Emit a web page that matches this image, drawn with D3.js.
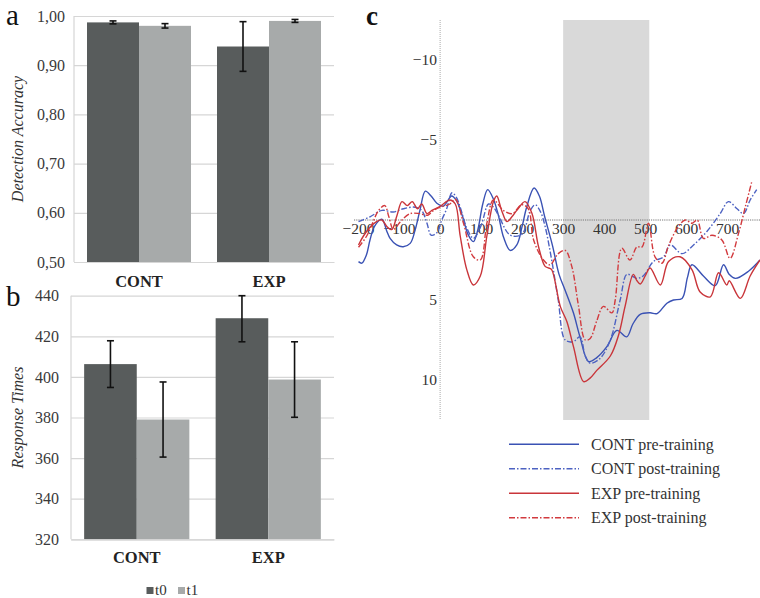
<!DOCTYPE html>
<html><head><meta charset="utf-8">
<script src="https://cdn.jsdelivr.net/npm/d3@7/dist/d3.min.js"></script>
<style>
html,body{margin:0;padding:0;background:#fff;}
svg{display:block;}
svg text{font-family:"Liberation Serif","Tinos","Times New Roman","DejaVu Serif",serif !important;}
</style></head>
<body>
<svg id="chart" width="760" height="598"></svg>
<script>
// ---------- DATA ----------
const categories = ["CONT", "EXP"];
const sessions = ["t0", "t1"];
const accTicks = [0.5, 0.6, 0.7, 0.8, 0.9, 1.0];
const accT0 = [0.987, 0.938];
const accT1 = [0.980, 0.990];
const accErrT0 = [0.003, 0.0505];
const accErrT1 = [0.0045, 0.003];
const rtTicks = [320, 340, 360, 380, 400, 420, 440];
const rtT0 = [406.3, 428.9];
const rtT1 = [379.0, 398.7];
const rtErrT0 = [11.5, 11.6];
const rtErrT1 = [18.5, 18.6];

const erpXTicks = [-200, -100, 0, 100, 200, 300, 400, 500, 600, 700];
const erpYTicks = [-10, -5, 5, 10];
const erpWindow = [300, 510];
const erpLabels = ["CONT pre-training", "CONT post-training", "EXP pre-training", "EXP post-training"];

const contPre = [[-199,2.6],[-191,2.7],[-180,2.2],[-171,1.25],[-160,0.4],[-142,-0.05],[-130,0.7],[-122,1.15],[-106,1.56],[-90,1.67],[-73,1.46],[-61,0.63],[-49,-0.63],[-36,-1.8],[-22,-1.5],[-8,-1.05],[8,-0.87],[28,-1.5],[40,-1.2],[55,-0.2],[68,0.9],[81,1.35],[92,0.6],[104,-1.0],[116,-1.9],[130,-1.3],[142,-0.3],[155,1.1],[171,1.9],[187,1.56],[200,0.4],[211,-0.8],[229,-2.0],[242,-1.5],[255,-0.2],[274,1.6],[290,3.4],[305,4.4],[325,5.8],[341,7.3],[362,8.85],[382,8.6],[407,7.9],[431,6.9],[455,7.3],[470,6.5],[488,5.9],[512,5.8],[529,5.85],[553,5.2],[569,5.0],[590,4.9],[603,3.6],[614,2.8],[642,3.5],[671,4.1],[691,2.8],[705,3.4],[720,3.65],[752,3.2],[780,2.5]];
const contPost = [[-199,0.1],[-171,-0.2],[-142,-0.6],[-114,-0.5],[-90,-0.7],[-61,-0.8],[-45,-0.6],[-32,0.2],[-22,0.95],[-8,0.8],[4,0],[16,-0.7],[29,-1.7],[40,-1.4],[49,-0.8],[65,0.5],[81,1.15],[92,0.8],[102,0.2],[118,-1.0],[130,-0.8],[142,-0.3],[171,0.95],[199,0.9],[220,-0.6],[232,-0.95],[245,-0.5],[256,0.4],[272,2.5],[288,5.0],[305,7.5],[325,7.6],[341,7.3],[354,8.5],[366,8.95],[390,8.65],[415,7.5],[439,5.0],[455,3.4],[468,3.5],[480,3.65],[495,3.5],[520,2.6],[545,2.3],[561,1.56],[590,2.1],[618,1.56],[650,0.73],[683,-0.4],[703,-1.15],[724,-0.7],[740,-0.4],[756,-1.25],[772,-1.9]];
const expPre = [[-199,1.56],[-187,1.0],[-171,0.45],[-155,0.1],[-142,0.0],[-130,0.4],[-118,0.6],[-105,-0.3],[-93,-1.15],[-80,-0.9],[-68,-1.15],[-55,-0.7],[-45,-1.0],[-32,-0.4],[-20,-0.6],[0,-0.85],[24,-1.25],[37,-1.0],[49,1.0],[65,3.1],[81,4.06],[98,3.5],[114,1.0],[130,-1.15],[138,-1.5],[150,-0.6],[163,0.1],[175,-0.2],[187,-0.6],[207,-1.15],[224,-0.4],[240,1.67],[256,2.9],[265,3.0],[272,3.1],[293,5.4],[309,6.35],[325,7.9],[350,10.1],[365,9.9],[382,9.4],[415,8.5],[435,7.2],[451,5.4],[471,3.4],[480,3.8],[488,4.0],[500,3.5],[512,3.0],[537,4.06],[557,2.6],[585,2.3],[614,3.1],[634,4.5],[659,4.8],[679,3.3],[699,4.06],[705,3.8],[732,4.9],[756,3.5],[780,2.5]];
const expPost = [[-199,1.7],[-179,1.0],[-165,0.2],[-150,-0.6],[-135,-0.9],[-125,-0.2],[-114,0.6],[-100,0.2],[-93,0.0],[-73,-0.4],[-50,-0.4],[-30,-0.3],[-16,-0.6],[0,-0.8],[24,-1.0],[37,-1.3],[57,0.2],[81,2.3],[98,2.5],[114,0.2],[130,-1.25],[154,-0.6],[176,-0.4],[199,-0.95],[215,-0.7],[228,1.25],[252,2.5],[268,2.8],[288,2.1],[305,1.9],[321,2.9],[337,5.3],[354,7.5],[366,7.4],[382,6.3],[398,5.4],[419,5.8],[427,5.0],[443,1.77],[463,2.5],[480,1.67],[492,1.7],[508,0.2],[524,2.3],[541,2.7],[557,1.6],[581,0.4],[598,0],[614,0.2],[627,0],[642,1.15],[663,0.95],[687,1.25],[707,2.4],[728,0.8],[744,-0.8],[760,-2.4]];

// ---------- STYLE ----------
const darkBar = "#585c5c", lightBar = "#a7aaaa", gridCol = "#d6d6d6";
const svg = d3.select("#chart");

function barPanel(opts) {
  const g = svg.append("g");
  const x = d3.scaleBand().domain(categories).range([opts.left, opts.right]).paddingInner(0.2).paddingOuter(0.1);
  const xs = d3.scaleBand().domain(sessions).range([0, x.bandwidth()]);
  const y = d3.scaleLinear().domain(opts.domain).range([opts.bottom, opts.top]);
  const ya = g.append("g").attr("transform", `translate(${opts.left},0)`)
    .call(d3.axisLeft(y).tickValues(opts.ticks).tickSize(-(opts.right - opts.left)).tickPadding(opts.pad).tickFormat(opts.fmt));
  ya.select(".domain").remove();
  ya.selectAll("line").attr("stroke", gridCol).attr("stroke-width", 1.2);
  ya.selectAll("text").attr("font-size", 16).attr("fill", "#3a3a3a");
  g.append("line").attr("x1", opts.left).attr("x2", opts.left).attr("y1", opts.top).attr("y2", opts.bottom).attr("stroke", gridCol).attr("stroke-width", 1.2);
  const vals = {t0: opts.t0, t1: opts.t1}, errs = {t0: opts.e0, t1: opts.e1};
  const cols = {t0: darkBar, t1: lightBar};
  sessions.forEach(s => {
    categories.forEach((c, i) => {
      const v = vals[s][i];
      g.append("rect").attr("x", x(c) + xs(s)).attr("width", xs.bandwidth())
        .attr("y", y(v)).attr("height", y(opts.domain[0]) - y(v)).attr("fill", cols[s]);
    });
  });
  sessions.forEach(s => {
    categories.forEach((c, i) => {
      const v = vals[s][i], e = errs[s][i];
      const cx = x(c) + xs(s) + xs.bandwidth() / 2;
      const top = y(Math.min(v + e, opts.domain[1])), bot = y(v - e);
      g.append("line").attr("x1", cx).attr("x2", cx).attr("y1", top).attr("y2", bot).attr("stroke", "#111").attr("stroke-width", 1.6);
      [top, bot].forEach(yy => g.append("line").attr("x1", cx - 3.5).attr("x2", cx + 3.5).attr("y1", yy).attr("y2", yy).attr("stroke", "#111").attr("stroke-width", 1.6));
    });
  });
  const xa = g.append("g").attr("transform", `translate(0,${opts.bottom})`)
    .call(d3.axisBottom(x).tickSize(0).tickPadding(opts.catPad));
  xa.select(".domain").attr("stroke", gridCol).attr("stroke-width", 1.2);
  xa.selectAll("text").attr("font-size", 16.5).attr("font-weight", "bold").attr("fill", "#222");
  g.append("text").attr("transform", `translate(${opts.titleX},${(opts.top + opts.bottom) / 2}) rotate(-90)`)
    .attr("text-anchor", "middle").attr("font-size", 16).attr("font-style", "italic").attr("fill", "#333").text(opts.title);
  g.append("text").attr("x", 6).attr("y", opts.letterY).attr("font-size", 29).attr("fill", "#111").text(opts.letter);
}

barPanel({left: 74, right: 334, top: 16, bottom: 262, domain: [0.5, 1.0], ticks: accTicks, pad: 9,
  fmt: d => d.toFixed(2).replace(".", ","), t0: accT0, t1: accT1, e0: accErrT0, e1: accErrT1,
  catPad: 13, title: "Detection Accuracy", titleX: 23, letter: "a", letterY: 25});
barPanel({left: 71, right: 334, top: 295.7, bottom: 539.3, domain: [320, 440], ticks: rtTicks, pad: 12,
  fmt: d3.format("d"), t0: rtT0, t1: rtT1, e0: rtErrT0, e1: rtErrT1,
  catPad: 12, title: "Response Times", titleX: 23, letter: "b", letterY: 306});

const lg = svg.append("g");
[["t0", darkBar, 146.5], ["t1", lightBar, 178]].forEach(([lab, col, lx]) => {
  lg.append("rect").attr("x", lx).attr("y", 587).attr("width", 7).attr("height", 7).attr("fill", col);
  lg.append("text").attr("x", lx + 8.5).attr("y", 595).attr("font-size", 15).attr("fill", "#333").text(lab);
});

// ---------- ERP panel ----------
const xE = d3.scaleLinear().domain([-210, 780]).range([354, 760]);
const yE = d3.scaleLinear().domain([-12.5, 12.5]).range([20, 420]);
const gc = svg.append("g");
gc.append("rect").attr("x", xE(erpWindow[0])).attr("width", xE(erpWindow[1]) - xE(erpWindow[0]))
  .attr("y", yE(-12.5)).attr("height", yE(12.5) - yE(-12.5)).attr("fill", "#d9d9d9");
gc.append("line").attr("x1", xE(0)).attr("x2", xE(0)).attr("y1", yE(-12.5)).attr("y2", yE(12.5))
  .attr("stroke", "#aaa").attr("stroke-width", 1).attr("stroke-dasharray", "1,1");
gc.append("line").attr("x1", xE(-210)).attr("x2", xE(780)).attr("y1", yE(0)).attr("y2", yE(0))
  .attr("stroke", "#777").attr("stroke-width", 1).attr("stroke-dasharray", "1.2,1");
const yax = gc.append("g").attr("transform", `translate(${xE(0)},0)`)
  .call(d3.axisLeft(yE).tickValues(erpYTicks).tickSize(0).tickPadding(3).tickFormat(d3.format("d")));
yax.select(".domain").remove();
yax.selectAll("text").attr("font-size", 15.5).attr("fill", "#333");
const xax = gc.append("g").attr("transform", `translate(0,${yE(0)})`)
  .call(d3.axisBottom(xE).tickValues(erpXTicks).tickSize(0).tickPadding(3).tickFormat(d3.format("d")));
xax.select(".domain").remove();
xax.selectAll("text").attr("font-size", 15.5).attr("fill", "#333");

const series = [
  {data: contPre, color: "#3a52b4", dash: null},
  {data: contPost, color: "#4d62c2", dash: "6,2,1.5,2"},
  {data: expPre, color: "#c9353a", dash: null},
  {data: expPost, color: "#d23a3e", dash: "6,2,1.5,2"}
];
const line = d3.line().x(d => xE(d[0])).y(d => yE(d[1])).curve(d3.curveCatmullRom.alpha(0.5));
series.forEach(s => {
  gc.append("path").attr("d", line(s.data)).attr("fill", "none").attr("stroke", s.color)
    .attr("stroke-width", 1.4).attr("stroke-dasharray", s.dash);
});
gc.append("text").attr("x", 366).attr("y", 25).attr("font-size", 27).attr("font-weight", "bold").attr("fill", "#111").text("c");

series.forEach((s, i) => {
  const ly = 444.3 + i * 24.5;
  gc.append("line").attr("x1", 509).attr("x2", 579).attr("y1", ly).attr("y2", ly)
    .attr("stroke", s.color).attr("stroke-width", 1.4).attr("stroke-dasharray", s.dash);
  gc.append("text").attr("x", 591).attr("y", ly + 5.5).attr("font-size", 16).attr("fill", "#333").text(erpLabels[i]);
});
</script>
</body></html>
